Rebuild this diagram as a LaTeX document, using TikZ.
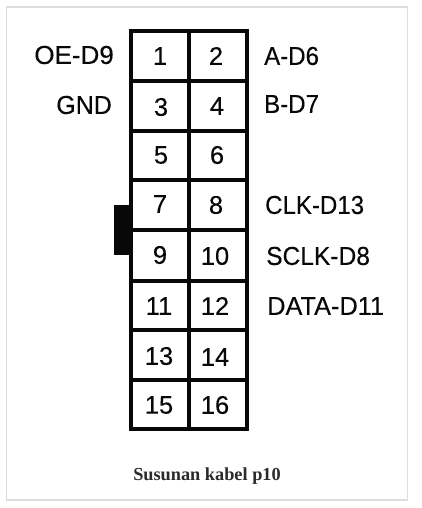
\documentclass[tikz,border=0pt]{standalone}
\usepackage{fontspec}
\setmainfont[FakeBold=0.25]{Liberation Sans}
\newfontfamily\plainsans[FakeBold=0.25]{Liberation Sans}
\newfontfamily\capfont{Liberation Serif}
\definecolor{framegray}{HTML}{DDDDDD}
\definecolor{captiongray}{HTML}{2A2A2A}
\definecolor{inkblack}{HTML}{080808}
\tikzset{
  cell/.style={draw=inkblack,line width=4pt,fill=white,inner sep=0pt,anchor=center},
  digit/.style={inner sep=0pt,text=inkblack,font=\plainsans\fontsize{25.5}{26}\selectfont},
  pinlabel/.style={inner sep=0pt,text=inkblack,font=\plainsans\fontsize{26}{27}\selectfont},
  caption/.style={inner sep=0pt,text=captiongray,font=\capfont\bfseries\fontsize{18.3}{20}\selectfont}
}
\begin{document}
\begin{tikzpicture}[x=1pt,y=-1pt]
\useasboundingbox (0,0) rectangle (421,508);
\fill[white] (0,0) rectangle (421,508);
\draw[framegray,line width=1.5pt] (6.5,7) rectangle (407.5,500);
% keying notch
\fill[inkblack] (113.5,205) rectangle (132,255);
% cells
\foreach \n/\xa/\ya/\xb/\yb in {
  1/130.5/31/188.5/81, 2/188.5/31/247/81,
  3/130.5/81/188.5/130.7, 4/188.5/81/247/130.7,
  5/130.5/130.7/188.5/180.3, 6/188.5/130.7/247/180.3,
  7/130.5/180.3/188.5/230, 8/188.5/180.3/247/230,
  9/130.5/230/188.5/280.5, 10/188.5/230/247/280.5,
  11/130.5/280.5/188.5/330, 12/188.5/280.5/247/330,
  13/130.5/330/188.5/379.5, 14/188.5/330/247/379.5,
  15/130.5/379.5/188.5/429, 16/188.5/379.5/247/429}{
  \pgfmathsetmacro{\cx}{(\xa+\xb)/2}
  \pgfmathsetmacro{\cy}{(\ya+\yb)/2}
  \pgfmathsetmacro{\cw}{\xb-\xa}
  \pgfmathsetmacro{\ch}{\yb-\ya}
  \node[cell,minimum width=\cw pt,minimum height=\ch pt] (c\n) at (\cx,\cy) {};
}
% numbers
\foreach \n/\x/\y in {1/160/56,2/216/56,3/161/107,4/217/106,5/161/155,6/217/155,7/160/204,8/216/205,
  9/160/255,10/215/256,11/159/306,12/215/306,13/159/356,14/215/357,15/159/405,16/215/405}{
  \node[digit] (d\n) at (\x,\y) {\n};
}
% pin labels
\node[pinlabel,anchor=east] (oe) at (114,55) {OE-D9};
\node[pinlabel,anchor=east,xscale=.96] (gnd) at (112,105) {GND};
\node[pinlabel,anchor=west,xscale=.925] (a) at (264,56) {A-D6};
\node[pinlabel,anchor=west,xscale=.925] (b) at (264,104) {B-D7};
\node[pinlabel,anchor=west,xscale=.925] (clk) at (265,205) {CLK-D13};
\node[pinlabel,anchor=west,xscale=.945] (sclk) at (266,256) {SCLK-D8};
\node[pinlabel,anchor=west,xscale=.975] (data) at (267,306) {DATA-D11};
\node[caption] (cap) at (207,476) {Susunan kabel p10};
\end{tikzpicture}
\end{document}
